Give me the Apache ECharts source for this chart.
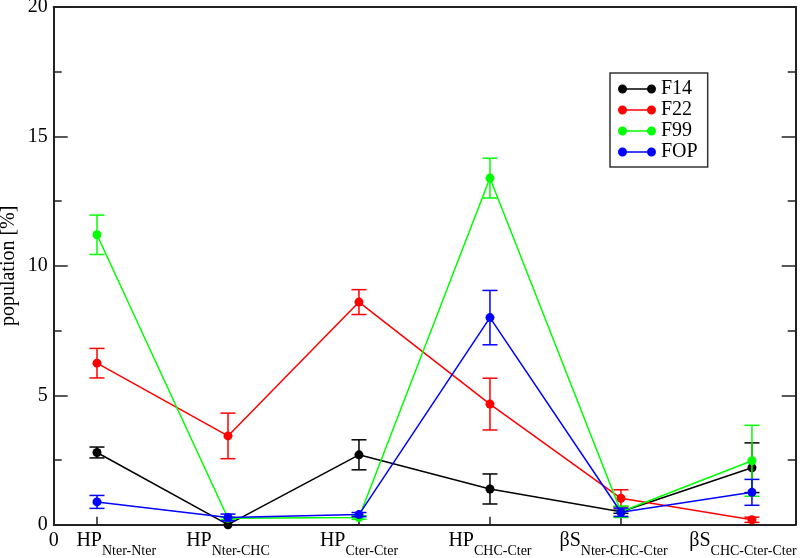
<!DOCTYPE html>
<html><head><meta charset="utf-8">
<script src="https://cdn.jsdelivr.net/npm/echarts@6/dist/echarts.min.js"></script>
<style>html,body{margin:0;padding:0;background:#fff}#c{width:800px;height:558px}</style>
</head><body><div id="c"></div>
<script>
// ---- data ----
const catMain = ['HP', 'HP', 'HP', 'HP', 'βS', 'βS'];
const catSub = ['Nter-Nter', 'Nter-CHC', 'Cter-Cter', 'CHC-Cter', 'Nter-CHC-Cter', 'CHC-Cter-Cter'];
const catPos = [1, 2, 3, 4, 5, 6];
const seriesNames = ['F14', 'F22', 'F99', 'FOP'];
const seriesColors = ['#000000', '#ff0000', '#00ff00', '#0000ff'];
const valF14 = [2.79, 0.0, 2.70, 1.38, 0.50, 2.20];
const errF14 = [0.21, 0.0, 0.58, 0.58, 0.06, 0.96];
const valF22 = [6.24, 3.43, 8.60, 4.66, 1.02, 0.19];
const errF22 = [0.57, 0.88, 0.48, 1.00, 0.33, 0.10];
const valF99 = [11.20, 0.25, 0.28, 13.39, 0.50, 2.47];
const errF99 = [0.76, 0.05, 0.07, 0.77, 0.22, 1.37];
const valFOP = [0.88, 0.28, 0.39, 8.00, 0.48, 1.25];
const errFOP = [0.25, 0.13, 0.08, 1.05, 0.16, 0.50];
const yTicks = [0, 5, 10, 15, 20];

const vals = [valF14, valF22, valF99, valFOP];
const errs = [errF14, errF22, errF99, errFOP];

// ---- layout ----
const xMin = 0.6695, xMax = 6.334;
const FONT = 'Liberation Serif';
// label anchor offsets (in axis units) relative to each category position
const labelOffset = [0.147, 0, 0, 0, -0.056, -0.069];
const labelAnchors = catPos.map((p, i) => p + labelOffset[i]);

const rich = {
  m: {fontFamily: FONT, fontSize: 20, color: '#000', lineHeight: 20, padding: [0, 0, 7, 0]},
  s: {fontFamily: FONT, fontSize: 14, color: '#000', lineHeight: 14, padding: [13, 0, 0, 0]}
};

const legendIcon = 'path://M0,4.5A4.5,4.5,0,1,1,9,4.5A4.5,4.5,0,1,1,0,4.5Z M29,4.5A4.5,4.5,0,1,1,38,4.5A4.5,4.5,0,1,1,29,4.5Z M4.5,3.75L33.5,3.75L33.5,5.25L4.5,5.25Z';

function makeErrRender(color) {
  return function (params, api) {
    const x = api.value(0), y = api.value(1), e = api.value(2);
    if (!e) return null;
    const t = api.coord([x, y + e]), b = api.coord([x, y - e]);
    const hw = 7.5;
    const st = {stroke: color, lineWidth: 1.5, fill: null};
    return {type: 'group', children: [
      {type: 'line', shape: {x1: t[0], y1: t[1], x2: b[0], y2: b[1]}, style: st},
      {type: 'line', shape: {x1: t[0] - hw, y1: t[1], x2: t[0] + hw, y2: t[1]}, style: st},
      {type: 'line', shape: {x1: b[0] - hw, y1: b[1], x2: b[0] + hw, y2: b[1]}, style: st}
    ]};
  };
}

const series = [];
seriesNames.forEach((n, k) => {
  series.push({
    name: n, type: 'line', xAxisIndex: 0, yAxisIndex: 0,
    data: catPos.map((x, i) => [x, vals[k][i]]),
    symbol: 'circle', symbolSize: 9, showSymbol: true,
    lineStyle: {color: seriesColors[k], width: 1.5},
    itemStyle: {color: seriesColors[k], borderWidth: 0},
    emphasis: {disabled: true}, animation: false, z: 2 + k
  });
  series.push({
    name: n + ' err', type: 'custom', xAxisIndex: 0, yAxisIndex: 0,
    data: catPos.map((x, i) => [x, vals[k][i], errs[k][i]]),
    encode: {x: 0, y: 1},
    renderItem: makeErrRender(seriesColors[k]),
    animation: false, silent: true, z: 2 + k
  });
});

const axisLine = {show: true, onZero: false, lineStyle: {color: '#222', width: 2}};

const option = {
  animation: false,
  backgroundColor: '#fff',
  grid: {left: 53.7, right: 4.3, top: 7, bottom: 33.3, containLabel: false, outerBoundsMode: 'none'},
  legend: {
    data: seriesNames.map(n => ({name: n, icon: legendIcon})),
    orient: 'vertical', left: 610, top: 73,
    itemWidth: 38, itemHeight: 9, itemGap: 1,
    padding: [6, 10, 5, 8],
    borderColor: '#333', borderWidth: 1.5, backgroundColor: '#fff',
    itemStyle: {borderWidth: 0},
    textStyle: {fontFamily: FONT, fontSize: 20, color: '#000'},
    selectedMode: false
  },
  xAxis: [{
    type: 'value', min: xMin, max: xMax, position: 'bottom',
    axisLine: axisLine,
    splitLine: {show: false},
    axisTick: {show: true, inside: true, length: 8, lineStyle: {color: '#222', width: 1.5}, customValues: catPos},
    axisLabel: {
      show: true, margin: 10, customValues: [xMin].concat(labelAnchors), hideOverlap: false,
      showMinLabel: true, showMaxLabel: true,
      formatter: function (v) {
        if (v < 0.9) return '{m|0}';
        const i = Math.round(v) - 1;
        return '{m|' + catMain[i] + '}{s|' + catSub[i] + '}';
      },
      rich: rich
    }
  }, {
    type: 'value', min: xMin, max: xMax, position: 'top',
    axisLine: axisLine, axisTick: {show: false}, axisLabel: {show: false}, splitLine: {show: false}
  }],
  yAxis: [{
    type: 'value', min: 0, max: 20, interval: 5, position: 'left',
    name: 'population [%]', nameLocation: 'middle', nameGap: 35, nameRotate: 90,
    nameMoveOverlap: false,
    nameTextStyle: {fontFamily: FONT, fontSize: 20, color: '#000'},
    axisLine: axisLine, splitLine: {show: false},
    axisTick: {show: true, inside: true, length: 14, lineStyle: {color: '#222', width: 1.5}},
    minorTick: {show: true, splitNumber: 2, length: 8, lineStyle: {color: '#222', width: 1.5}},
    axisLabel: {show: true, margin: 6, fontFamily: FONT, fontSize: 20, color: '#000',
      customValues: yTicks, formatter: v => String(v)}
  }, {
    type: 'value', min: 0, max: 20, interval: 5, position: 'right',
    axisLine: axisLine, splitLine: {show: false},
    axisTick: {show: true, inside: true, length: 14, lineStyle: {color: '#222', width: 1.5}},
    minorTick: {show: true, splitNumber: 2, length: 8, lineStyle: {color: '#222', width: 1.5}},
    axisLabel: {show: false}
  }],
  series: series
};

const chart = echarts.init(document.getElementById('c'), null, {renderer: 'canvas'});
chart.setOption(option);
</script>
</body></html>
